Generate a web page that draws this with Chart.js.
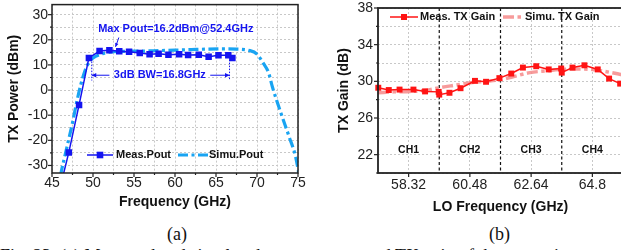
<!DOCTYPE html>
<html>
<head>
<meta charset="utf-8">
<script src="https://cdn.jsdelivr.net/npm/chart.js@4.4.1/dist/chart.umd.min.js"></script>
<style>
  html, body { margin: 0; padding: 0; background: #fff; width: 621px; height: 250px; overflow: hidden; }
  .box { position: absolute; top: 0; height: 215px; }
  #boxA { left: 0; width: 310px; }
  #boxB { left: 310px; width: 320px; }
  .cap { position: absolute; font-family: "Liberation Serif", "Times New Roman", serif; font-size: 18px; line-height: 20px; color: #111; white-space: nowrap; }
</style>
</head>
<body>
<div class="box" id="boxA"><canvas id="chartA"></canvas></div>
<div class="box" id="boxB"><canvas id="chartB"></canvas></div>
<div class="cap" style="left:167px; top:224px;">(a)</div>
<div class="cap" style="left:489px; top:224px;">(b)</div>
<div class="cap" style="left:0; top:246px;">Fig. 23. (a) Measured and simulated output power and TX gain of the transmitter versus frequency in the</div>
<script>
// (a) puissance de sortie
const measFreq = [45.9, 47.05, 48.3, 49.5, 50.8, 52.0, 53.2, 54.4, 55.7, 56.9, 58.0, 59.2, 60.5, 61.6, 62.9, 64.1, 65.3, 66.5, 67.0];
const measPout = [-40, -24.8, -5.9, 12.8, 15.5, 15.8, 15.4, 15.2, 14.7, 14.2, 14.4, 14.0, 14.2, 13.9, 14.0, 13.3, 13.8, 13.8, 12.8];
const simuFreq = [45.6, 46.1, 46.8, 47.5, 48.0, 48.5, 49.0, 49.5, 50.0, 51.0, 52.0, 54.0, 56.0, 58.0, 60.0, 62.0, 64.0, 66.0, 67.5, 69.0, 70.0, 70.8, 71.4, 71.9, 72.9, 73.9, 74.7, 75.2];
const simuPout = [-42, -33, -23, -13, -5, 2, 7.5, 11, 12.8, 14.3, 15.1, 15.4, 15.5, 15.7, 15.9, 16.1, 16.3, 16.4, 16.3, 15.8, 14.3, 10.5, 7, 1, -9, -18.4, -26.4, -35];

const freqGridA = [45, 47.5, 50, 52.5, 55, 57.5, 60, 62.5, 65, 67.5, 70, 72.5, 75];
const freqLabelsA = [45, 50, 55, 60, 65, 70, 75];
const powerGrid = [-30, -25, -20, -15, -10, -5, 0, 5, 10, 15, 20, 25, 30];
const powerLabels = [-30, -20, -10, 0, 10, 20, 30];
const bwEdges = [49.85, 66.65];

// (b) gain TX
const gainFreq = [57.25, 57.62, 58.0, 58.49, 58.9, 59.38, 59.4, 59.76, 60.15, 60.66, 61.05, 61.52, 61.94, 62.35, 62.82, 63.26, 63.7, 63.72, 64.1, 64.52, 64.99, 65.39, 65.78];
const measGain = [29.3, 29.05, 29.1, 29.1, 28.9, 28.85, 28.55, 28.75, 29.25, 30.05, 29.95, 30.35, 30.85, 31.5, 31.65, 31.3, 31.4, 30.95, 31.5, 31.75, 31.3, 30.3, 29.75];
const simuGainFreq = [57.24, 57.8, 58.4, 59.0, 59.4, 60.0, 60.5, 61.0, 61.5, 62.0, 62.6, 63.2, 63.7, 64.2, 64.8, 65.3, 65.88];
const simuGain = [28.75, 28.85, 28.9, 29.05, 29.3, 29.6, 29.85, 30.0, 30.15, 30.5, 30.95, 31.15, 31.3, 31.35, 31.3, 31.05, 30.7];

const loTicks = [58.32, 60.48, 62.64, 64.8];
const loLabels = ['58.32', '60.48', '62.64', '64.8'];
const chBounds = [59.4, 61.56, 63.72];
const chNames = ['CH1', 'CH2', 'CH3', 'CH4'];
const gainGrid = [20, 22, 24, 26, 28, 30, 32, 34, 36, 38];
const gainLabels = [22, 26, 30, 34, 38];

const measBlue = '#1414f0';
const simuBlue = '#19a4f2';
const measRed = '#ff1414';
const simuPink = 'rgba(246,138,138,0.85)';
const sans = '"Liberation Sans", Arial, sans-serif';

Chart.defaults.font.family = sans;
Chart.defaults.color = '#222';

function pts(xs, ys) {
    return xs.map((x, i) => ({ x: x, y: ys[i] }));
}

// pas de marge ajoutée par les étiquettes en bout d'axe
function noEdgePad(s) {
    s.paddingTop = 0;
    s.paddingBottom = 0;
    s.paddingLeft = 0;
    s.paddingRight = 0;
}

// cadre + petites graduations
const framePlugin = {
    id: 'frame',
    afterDatasetsDraw(chart, args, opts) {
        const { ctx, chartArea: a, scales: { x, y } } = chart;
        ctx.save();
        ctx.strokeStyle = '#222';
        ctx.lineWidth = opts.width;
        ctx.strokeRect(a.left, a.top, a.right - a.left, a.bottom - a.top);
        ctx.lineWidth = 1.2;
        x.ticks.forEach(t => {
            const px = x.getPixelForValue(t.value);
            const len = opts.majorX.includes(t.value) ? 4 : 2;
            ctx.beginPath(); ctx.moveTo(px, a.bottom); ctx.lineTo(px, a.bottom + len); ctx.stroke();
        });
        y.ticks.forEach(t => {
            const py = y.getPixelForValue(t.value);
            const len = opts.majorY.includes(t.value) ? 4 : 2;
            ctx.beginPath(); ctx.moveTo(a.left, py); ctx.lineTo(a.left - len, py); ctx.stroke();
        });
        ctx.restore();
    }
};

function arrowHead(ctx, x0, y0, x1, y1, size) {
    const ang = Math.atan2(y1 - y0, x1 - x0);
    ctx.beginPath();
    ctx.moveTo(x1, y1);
    ctx.lineTo(x1 - size * Math.cos(ang - 0.45), y1 - size * Math.sin(ang - 0.45));
    ctx.lineTo(x1 - size * Math.cos(ang + 0.45), y1 - size * Math.sin(ang + 0.45));
    ctx.closePath();
    ctx.fill();
}

function arrow(ctx, x0, y0, x1, y1, size) {
    ctx.beginPath(); ctx.moveTo(x0, y0); ctx.lineTo(x1, y1); ctx.stroke();
    arrowHead(ctx, x0, y0, x1, y1, size);
}

// annotations du graphe (a)
const annotA = {
    id: 'annotA',
    afterDraw(chart) {
        const { ctx, chartArea: a, scales: { x, y } } = chart;
        ctx.save();
        ctx.fillStyle = measBlue;
        ctx.strokeStyle = measBlue;
        ctx.lineWidth = 1;
        ctx.font = 'bold 11px ' + sans;
        ctx.textAlign = 'center';
        ctx.textBaseline = 'middle';
        ctx.fillText('Max Pout=16.2dBm@52.4GHz', x.getPixelForValue(60.1), y.getPixelForValue(24.5));
        arrow(ctx, x.getPixelForValue(53.15), y.getPixelForValue(20.9), x.getPixelForValue(52.75), y.getPixelForValue(17.2), 4);

        ctx.fillText('3dB BW=16.8GHz', x.getPixelForValue(58.15), y.getPixelForValue(5.9));
        const yb = y.getPixelForValue(5.9);
        arrow(ctx, x.getPixelForValue(52.0), yb, x.getPixelForValue(bwEdges[0]), yb, 5);
        arrow(ctx, x.getPixelForValue(64.3), yb, x.getPixelForValue(bwEdges[1]), yb, 5);
        ctx.setLineDash([1.5, 1.5]);
        bwEdges.forEach((f, i) => {
            const px = x.getPixelForValue(f);
            ctx.beginPath();
            ctx.moveTo(px, y.getPixelForValue(i === 0 ? 12.5 : 13.3));
            ctx.lineTo(px, y.getPixelForValue(3.8));
            ctx.stroke();
        });
        ctx.setLineDash([]);

        // légende
        const ly = a.bottom - 18;
        const lx = a.left + 35;
        ctx.lineWidth = 1.5;
        ctx.beginPath(); ctx.moveTo(lx, ly); ctx.lineTo(lx + 26, ly); ctx.stroke();
        ctx.fillRect(lx + 13 - 3.3, ly - 3.3, 6.6, 6.6);
        ctx.fillStyle = '#111';
        ctx.textAlign = 'left';
        ctx.fillText('Meas.Pout', lx + 29, ly);
        ctx.strokeStyle = simuBlue;
        ctx.lineWidth = 3.2;
        ctx.setLineDash([10, 3.5, 3, 3.5]);
        ctx.beginPath(); ctx.moveTo(lx + 91, ly); ctx.lineTo(lx + 121, ly); ctx.stroke();
        ctx.setLineDash([]);
        ctx.fillText('Simu.Pout', lx + 122, ly);
        ctx.restore();
    }
};

// lignes de canal, étiquettes et légende du graphe (b)
const annotB = {
    id: 'annotB',
    beforeDatasetsDraw(chart) {
        const { ctx, chartArea: a, scales: { x, y } } = chart;
        ctx.save();
        ctx.strokeStyle = '#111';
        ctx.lineWidth = 1.2;
        ctx.setLineDash([3, 2.5]);
        chBounds.forEach(f => {
            const px = x.getPixelForValue(f);
            ctx.beginPath(); ctx.moveTo(px, a.top); ctx.lineTo(px, a.bottom); ctx.stroke();
        });
        ctx.setLineDash([]);
        ctx.fillStyle = '#111';
        ctx.font = 'bold 10.5px ' + sans;
        ctx.textAlign = 'center';
        ctx.textBaseline = 'middle';
        chNames.forEach((n, i) => {
            ctx.fillText(n, x.getPixelForValue(loTicks[i]), y.getPixelForValue(22.55));
        });
        ctx.restore();
    },
    afterDraw(chart) {
        const { ctx, chartArea: a } = chart;
        ctx.save();
        const ly = a.top + 9;
        const lx = a.left + 12;
        ctx.strokeStyle = measRed;
        ctx.fillStyle = measRed;
        ctx.lineWidth = 1.5;
        ctx.beginPath(); ctx.moveTo(lx, ly); ctx.lineTo(lx + 28, ly); ctx.stroke();
        ctx.fillRect(lx + 14 - 3, ly - 3, 6, 6);
        ctx.fillStyle = '#111';
        ctx.font = 'bold 11px ' + sans;
        ctx.textAlign = 'left';
        ctx.textBaseline = 'middle';
        ctx.fillText('Meas. TX Gain', lx + 30, ly);
        ctx.strokeStyle = simuPink;
        ctx.lineWidth = 3.5;
        ctx.setLineDash([11, 3.5, 3.5, 3.5]);
        ctx.beginPath(); ctx.moveTo(lx + 113, ly); ctx.lineTo(lx + 134, ly); ctx.stroke();
        ctx.setLineDash([]);
        ctx.fillText('Simu. TX Gain', lx + 135, ly);
        ctx.restore();
    }
};

new Chart(document.getElementById('chartA'), {
    type: 'line',
    data: {
        datasets: [
            {
                label: 'Meas.Pout',
                data: pts(measFreq, measPout),
                borderColor: measBlue,
                backgroundColor: measBlue,
                borderWidth: 1.5,
                pointStyle: 'rect',
                pointRadius: measPout.map(v => v < -33 ? 0 : 4.6),
                pointBorderWidth: 0,
                tension: 0,
                order: 1
            },
            {
                label: 'Simu.Pout',
                data: pts(simuFreq, simuPout),
                borderColor: simuBlue,
                borderWidth: 3.2,
                borderDash: [10, 3.5, 3, 3.5],
                pointRadius: 0,
                cubicInterpolationMode: 'monotone',
                order: 2
            }
        ]
    },
    options: {
        responsive: true,
        maintainAspectRatio: false,
        animation: false,
        devicePixelRatio: 1,
        layout: { padding: { top: 4, right: 12, left: 0, bottom: 0 } },
        plugins: {
            legend: { display: false },
            tooltip: { enabled: false },
            frame: { width: 1.5, majorX: freqLabelsA, majorY: powerLabels }
        },
        scales: {
            x: {
                type: 'linear', min: 45, max: 75,
                afterBuildTicks: s => { s.ticks = freqGridA.map(v => ({ value: v })); },
                afterFit: s => { s.height = 42; noEdgePad(s); },
                grid: { color: '#c8c8c8', lineWidth: 1, drawTicks: false },
                border: { display: false, dash: [2, 2] },
                ticks: { autoSkip: false, maxRotation: 0, padding: 1.6, font: { size: 14 }, callback: v => freqLabelsA.includes(v) ? v : '' },
                title: { display: true, text: 'Frequency (GHz)', color: '#111', font: { size: 14, weight: 'bold', lineHeight: 1 }, padding: { top: 0, bottom: 6 } }
            },
            y: {
                type: 'linear', min: -33, max: 34,
                afterBuildTicks: s => { s.ticks = powerGrid.map(v => ({ value: v })); },
                afterFit: s => { s.width = 52; noEdgePad(s); },
                grid: { color: '#c8c8c8', lineWidth: 1, drawTicks: false },
                border: { display: false, dash: [2, 2] },
                ticks: { autoSkip: false, padding: 4, font: { size: 14 }, callback: v => powerLabels.includes(v) ? v : '' },
                title: { display: true, text: 'TX Power (dBm)', color: '#111', font: { size: 14, weight: 'bold', lineHeight: 1 }, padding: { top: 7, bottom: 0 } }
            }
        }
    },
    plugins: [framePlugin, annotA]
});

new Chart(document.getElementById('chartB'), {
    type: 'line',
    data: {
        datasets: [
            {
                label: 'Meas. TX Gain',
                data: pts(gainFreq, measGain),
                borderColor: measRed,
                backgroundColor: measRed,
                borderWidth: 1.5,
                pointStyle: 'rect',
                pointRadius: 4.2,
                pointBorderWidth: 0,
                tension: 0,
                clip: 4,
                order: 1
            },
            {
                label: 'Simu. TX Gain',
                data: pts(simuGainFreq, simuGain),
                borderColor: simuPink,
                borderWidth: 3.5,
                borderDash: [11, 3.5, 3.5, 3.5],
                pointRadius: 0,
                cubicInterpolationMode: 'monotone',
                order: 2
            }
        ]
    },
    options: {
        responsive: true,
        maintainAspectRatio: false,
        animation: false,
        devicePixelRatio: 1,
        layout: { padding: { top: 8, right: 7, left: 0, bottom: 0 } },
        plugins: {
            legend: { display: false },
            tooltip: { enabled: false },
            frame: { width: 1.8, majorX: loTicks, majorY: gainLabels }
        },
        scales: {
            x: {
                type: 'linear', min: 57.24, max: 65.88,
                afterBuildTicks: s => { s.ticks = loTicks.map(v => ({ value: v })); },
                afterFit: s => { s.height = 42; noEdgePad(s); },
                grid: { color: '#c8c8c8', lineWidth: 1, drawTicks: false },
                border: { display: false, dash: [2, 2] },
                ticks: { autoSkip: false, maxRotation: 0, padding: 3.6, font: { size: 14 }, callback: (v, i) => loLabels[i] },
                title: { display: true, text: 'LO Frequency (GHz)', color: '#111', font: { size: 14, weight: 'bold', lineHeight: 1 }, padding: { top: 0, bottom: 1 } }
            },
            y: {
                type: 'linear', min: 20, max: 38,
                afterBuildTicks: s => { s.ticks = gainGrid.map(v => ({ value: v })); },
                afterFit: s => { s.width = 68; noEdgePad(s); },
                grid: { color: '#c8c8c8', lineWidth: 1, drawTicks: false },
                border: { display: false, dash: [2, 2] },
                ticks: { autoSkip: false, padding: 5, font: { size: 14 }, callback: v => gainLabels.includes(v) ? v : '' },
                title: { display: true, text: 'TX Gain (dB)', color: '#111', font: { size: 14, weight: 'bold', lineHeight: 1 }, padding: { top: 27, bottom: 0 } }
            }
        }
    },
    plugins: [framePlugin, annotB]
});
</script>
</body>
</html>
